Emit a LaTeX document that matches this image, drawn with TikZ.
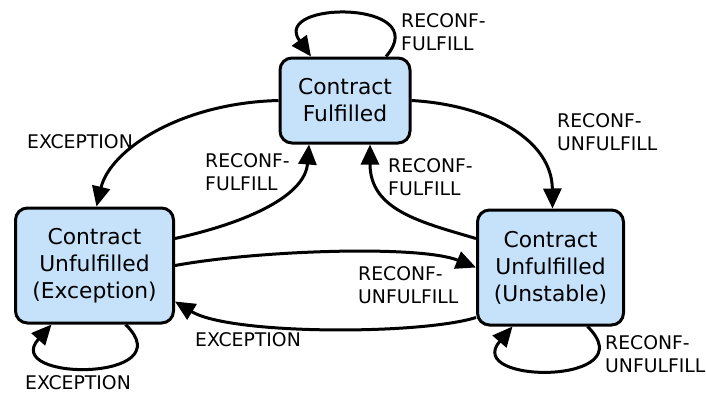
\documentclass[tikz,border=0pt]{standalone}
\usepackage{fontspec}
\setmainfont{DejaVu Sans}
\usetikzlibrary{positioning, shapes, arrows, arrows.meta}
\definecolor{statefill}{RGB}{198,226,250}
\tikzset{>={Triangle[length=20pt,width=18pt]}}
\tikzset{
    state/.style={draw, line width=3pt, fill=statefill, rounded corners=12pt,
        align=center, inner sep=0pt, font=\fontsize{21.8}{27}\selectfont},
    lbl/.style={anchor=north west, align=left, inner sep=0pt,
        font=\fontsize{18.8}{23.5}\selectfont},
    trans/.style={->, line width=3pt}
}

\begin{document}
\begin{tikzpicture}[x=1pt, y=-1pt]
    \useasboundingbox (0,0) rectangle (706,394);

    \node[state, minimum width=130pt, minimum height=85pt] (f) at (345,100.5) {Contract\\Fulfilled};
    \node[state, minimum width=158pt, minimum height=115pt] (e) at (94.5,265.5) {Contract\\Unfulfilled\\(Exception)};
    \node[state, minimum width=146pt, minimum height=115pt] (u) at (550.5,267.5) {Contract\\Unfulfilled\\(Unstable)};

    \node[lbl] (lf1) at (401,13) {RECONF-\\FULFILL};
    \node[lbl] (le1) at (27,134) {EXCEPTION};
    \node[lbl] (lf2) at (205,153) {RECONF-\\FULFILL};
    \node[lbl] (lf3) at (388,158) {RECONF-\\FULFILL};
    \node[lbl] (lu1) at (557,113) {RECONF-\\UNFULFILL};
    \node[lbl] (lu2) at (358,266) {RECONF-\\UNFULFILL};
    \node[lbl] (le2) at (195,332) {EXCEPTION};
    \node[lbl] (le3) at (25,375.5) {EXCEPTION};
    \node[lbl] (lu3) at (605,335) {RECONF-\\UNFULFILL};

    \draw[trans]
    ([xshift=41pt]f.north) .. controls (435,0) and (270,0) .. ([xshift=-34pt]f.north)
    ;
    \draw[trans]
    (f.west) .. controls (180,103) and (110,150) .. ([xshift=2pt]e.north)
    ;
    \draw[trans]
    ([yshift=27pt]e.east) .. controls (250,222) and (305,195) .. ([xshift=-36pt]f.south)
    ;
    \draw[trans]
    (f.east) .. controls (490,105) and (552,140) .. ([xshift=2pt]u.north)
    ;
    \draw[trans]
    ([yshift=29pt]u.west) .. controls (420,222) and (370,210) .. ([xshift=25pt]f.south)
    ;
    \draw[trans]
    (e.east) .. controls (260,250) and (420,245) .. (u.west)
    ;
    \draw[trans]
    ([yshift=-50pt]u.west) .. controls (420,335) and (230,335) .. ([yshift=-36pt]e.east)
    ;
    \draw[trans]
    ([xshift=31pt]e.south) .. controls (185,382) and (0,382) .. ([xshift=-43pt]e.south)
    ;
    \draw[trans]
    ([xshift=37pt]u.south) .. controls (647,385) and (462,385) .. ([xshift=-38pt]u.south)
    ;
\end{tikzpicture}
\end{document}
